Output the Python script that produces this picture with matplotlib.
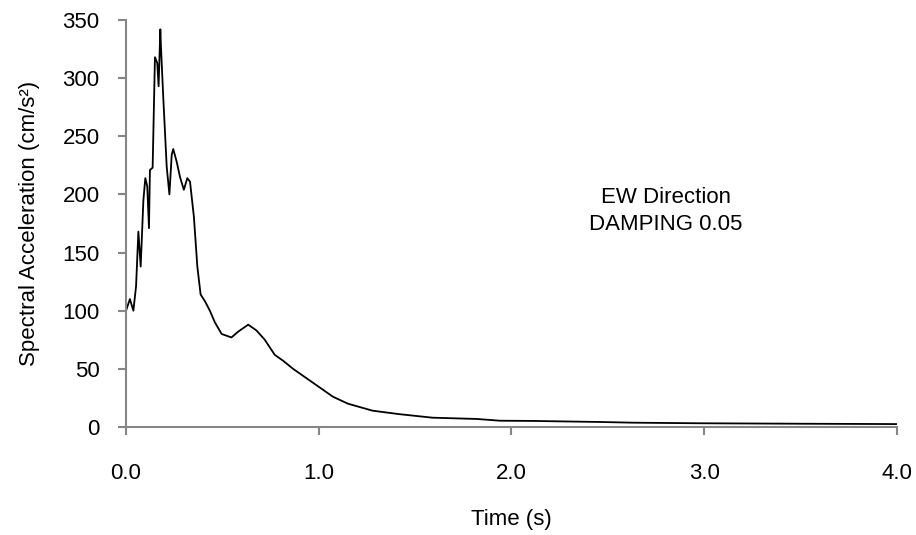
import matplotlib.pyplot as plt

# response spectrum, EW direction, 5% damping
period = [0.0, 0.02, 0.038, 0.052, 0.064, 0.076, 0.09, 0.10, 0.11, 0.119, 0.124, 0.138,
          0.150, 0.162, 0.169, 0.178, 0.181, 0.193, 0.211, 0.225, 0.237, 0.245, 0.263,
          0.28, 0.30, 0.318, 0.332, 0.352, 0.37, 0.387, 0.41, 0.435, 0.461, 0.496, 0.547,
          0.582, 0.634, 0.677, 0.72, 0.772, 0.815, 0.867, 0.936, 1.005, 1.074, 1.152,
          1.28, 1.42, 1.59, 1.82, 1.94, 2.11, 2.46, 2.63, 2.97, 3.5, 4.0]
accel = [100, 110, 100, 121, 168, 138, 195, 214, 207, 171, 221, 223,
         318, 313, 293, 342, 328, 284, 224, 200, 234, 239, 228,
         215, 204, 214, 211, 181, 138, 114, 108, 100, 90, 80, 77,
         82, 88, 83, 75, 62, 57, 50, 42, 34, 26, 20,
         14, 11, 8, 6.9, 5.4, 5.2, 4.3, 3.7, 3.2, 2.8, 2.5]

plt.rcParams['font.family'] = ['Liberation Sans', 'DejaVu Sans']

fig, ax = plt.subplots(figsize=(9.16, 5.35), dpi=100)
fig.subplots_adjust(left=0.1376, right=0.979, bottom=0.2019, top=0.9626)

ax.plot(period, accel, color="black", lw=1.3)

ax.set_xlim(0, 4.0)
ax.set_ylim(0, 350)
ax.set_xticks([0, 1, 2, 3, 4])
ax.set_xticklabels(["0.0", "1.0", "2.0", "3.0", "4.0"])
ax.set_yticks(range(0, 351, 50))

for side in ["top", "right"]:
	ax.spines[side].set_visible(False)
for side in ["left", "bottom"]:
	ax.spines[side].set_color("#868686")
	ax.spines[side].set_linewidth(1.5)
ax.tick_params(axis="both", colors="#868686", length=6, width=1.5, labelcolor="black", labelsize=16)
ax.tick_params(axis="y", pad=13)
ax.tick_params(axis="x", pad=20)

ax.set_xlabel("Time (s)", size=16, labelpad=18)
ax.set_ylabel("Spectral Acceleration (cm/s\u00b2)", size=16, labelpad=16)

ax.text(2.8, 186, "EW Direction\nDAMPING 0.05", ha="center", va="center", size=16, linespacing=1.4)

fig.savefig("out.png", dpi=100)
